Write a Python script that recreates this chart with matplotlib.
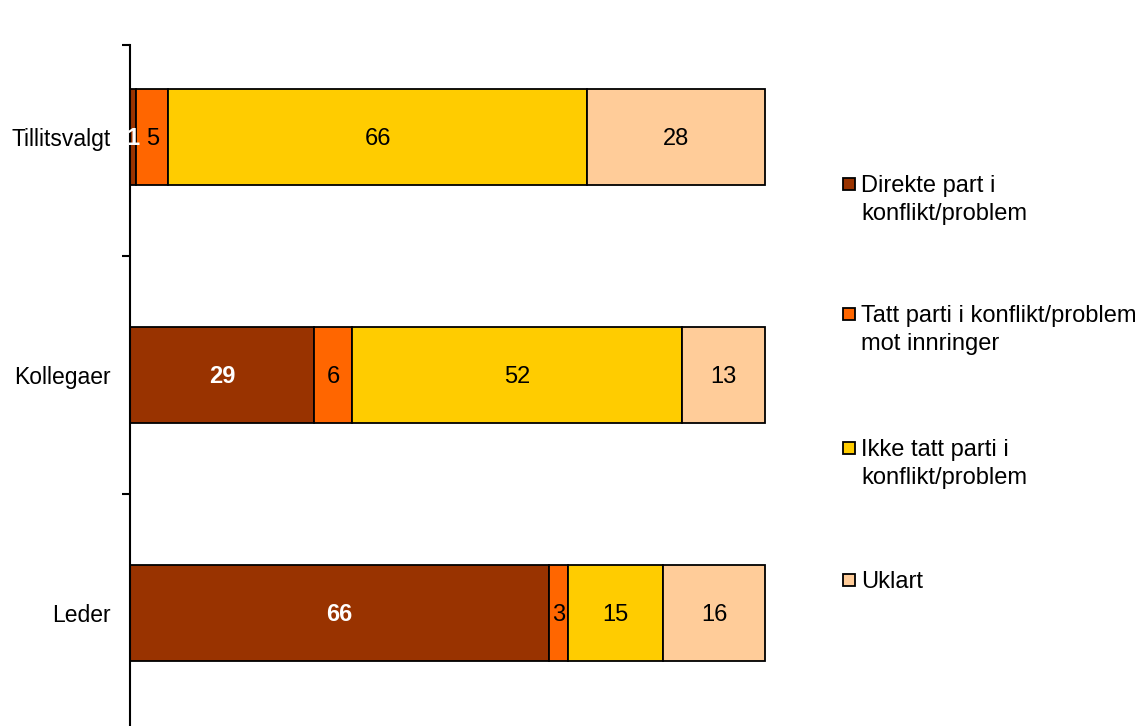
#!/usr/bin/env python3
"""Stacked horizontal bars: role of the person in the conflict."""

import matplotlib

matplotlib.use("Agg")
import matplotlib.pyplot as plt
import numpy as np
from matplotlib.patches import Rectangle

plt.rcParams["font.family"] = ["Liberation Sans", "DejaVu Sans"]

categories = ["Leder", "Kollegaer", "Tillitsvalgt"]
series_names = [
    "Direkte part i\nkonflikt/problem",
    "Tatt parti i konflikt/problem\nmot innringer",
    "Ikke tatt parti i\nkonflikt/problem",
    "Uklart",
]
values = {
    "direkte": [66, 29, 1],
    "tatt_parti": [3, 6, 5],
    "ikke_tatt": [15, 52, 66],
    "uklart": [16, 13, 28],
}
colors = ["#993300", "#FF6600", "#FFCC00", "#FFCC99"]
label_colors = ["white", "black", "black", "black"]
label_weights = ["bold", "normal", "normal", "normal"]

W, H = 1138, 726
FS = 17
fig = plt.figure(figsize=(W / 100, H / 100), dpi=100)
ax = fig.add_axes([130 / W, 0, 635 / W, 681 / H])

y = np.arange(len(categories))
left = np.zeros(len(categories))
for i, key in enumerate(values):
    vals = np.array(values[key], dtype=float)
    bars = ax.barh(y, vals, left=left, height=0.4, color=colors[i],
                   edgecolor="black", linewidth=1.3)
    for b in bars:
        b.set_clip_on(False)
    for yi, (l, v) in enumerate(zip(left, vals)):
        ax.text(l + v / 2, yi - 0.008, f"{int(v)}", ha="center", va="center",
                fontsize=FS, color=label_colors[i], fontweight=label_weights[i])
    left += vals

ax.set_xlim(0, 100)
ax.set_ylim(-0.475, 2.387)
ax.set_yticks(y)
ax.set_yticklabels(categories, fontsize=16.5)
ax.tick_params(axis="y", which="major", length=0, pad=14)
ax.set_yticks([0.5, 1.5, 2.387], minor=True)
ax.tick_params(axis="y", which="minor", length=6, width=1.5, direction="out")
ax.set_xticks([])
for side in ("top", "right", "bottom"):
    ax.spines[side].set_visible(False)
ax.spines["left"].set_linewidth(1.5)

# legend drawn by hand to keep the wide spacing of the original
legend_y = [184, 314, 448, 580]
for name, col, ly in zip(series_names, colors, legend_y):
    fig.patches.append(Rectangle((843 / W, 1 - (ly + 6) / H), 12 / W, 12 / H,
                                 transform=fig.transFigure, facecolor=col,
                                 edgecolor="black", linewidth=1.3))
    fig.text(861 / W, 1 - (ly - 9) / H, name, fontsize=FS, va="top",
             ha="left", linespacing=1.33)

fig.savefig("out.png", dpi=100)
